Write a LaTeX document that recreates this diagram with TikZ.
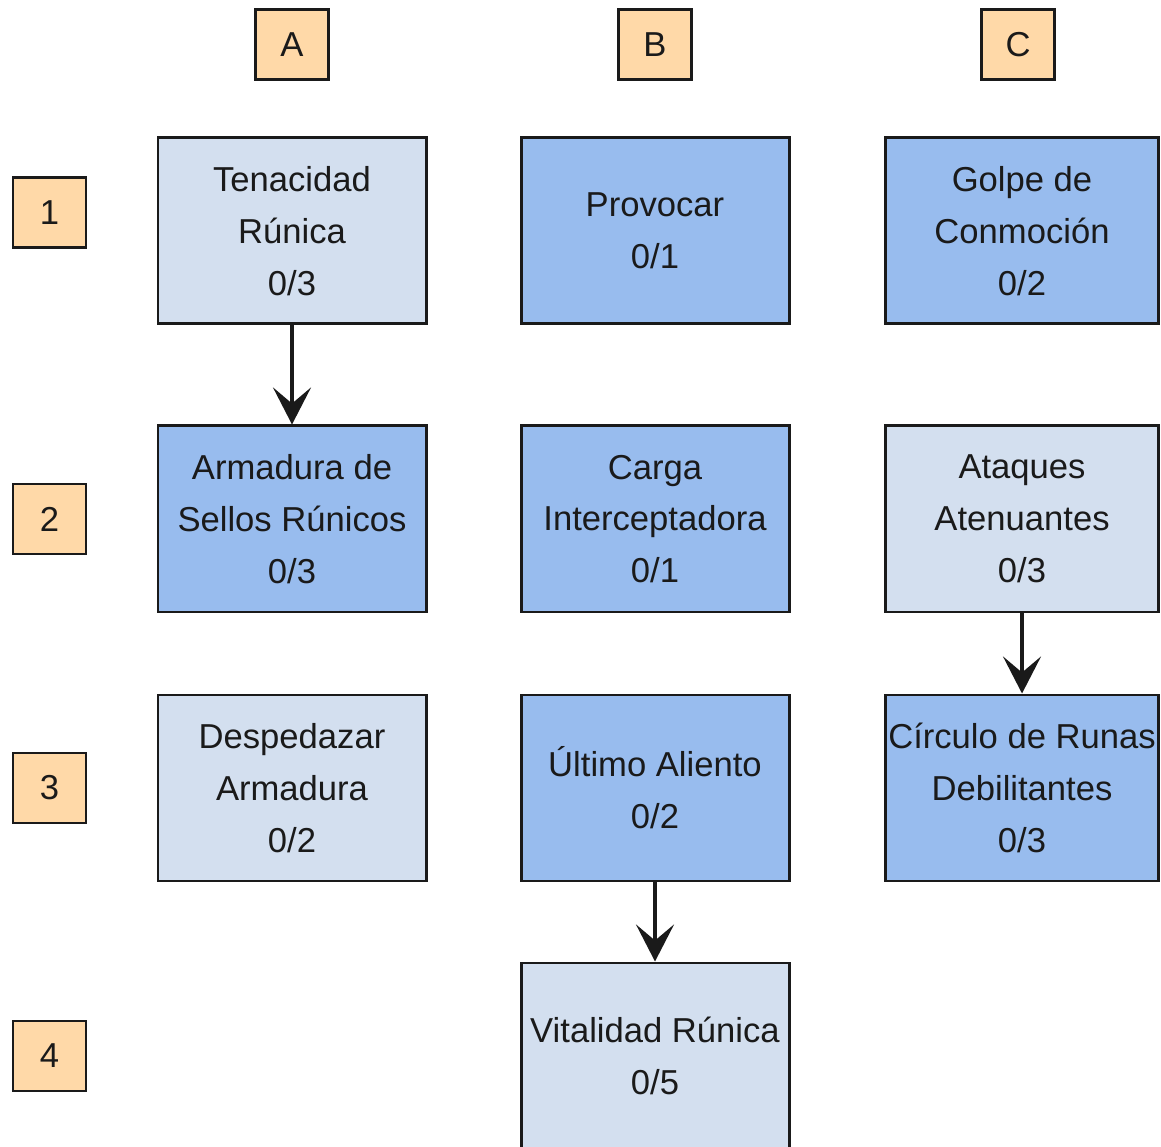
\documentclass[tikz,border=0pt]{standalone}
\usepackage{fontspec}
\setmainfont{Liberation Sans}
\usetikzlibrary{arrows.meta, positioning}
\definecolor{talentlight}{HTML}{D3DFEF}
\definecolor{talentdark}{HTML}{98BCEE}
\definecolor{labelfill}{HTML}{FFD9A8}
\definecolor{edge}{HTML}{1A1A1A}
\tikzset{
    talent/.style={
        rectangle, draw=edge, line width=1.7pt,
        minimum width=5.36cm, minimum height=3.72cm,
        inner sep=0pt, align=center, text=edge,
        font=\fontsize{19.7}{29.5}\selectfont
    },
    passive/.style={talent, fill=talentlight},
    active/.style={talent, fill=talentdark},
    tag/.style={
        rectangle, draw=edge, line width=1.7pt,
        minimum width=1.46cm, minimum height=1.4cm,
        fill=labelfill, text=edge, inner sep=0pt,
        font=\fontsize{19.7}{24}\selectfont
    },
    wire/.style={draw=edge, line width=2.1pt,
        -{Stealth[length=7.4mm, width=7.6mm, inset=3.2mm]}}
}
\begin{document}
\begin{tikzpicture}
\useasboundingbox (0,0) rectangle (23.22,22.92);

% Column headers
\node[tag] (colA) at (5.84,22.02) {A};
\node[tag] (colB) at (13.1,22.02) {B};
\node[tag] (colC) at (20.36,22.02) {C};

% Row labels
\node[tag] (row1) at (0.99,18.66) {1};
\node[tag] (row2) at (0.99,12.54) {2};
\node[tag] (row3) at (0.99,7.16) {3};
\node[tag] (row4) at (0.99,1.8) {4};

% Row 1
\node[passive] (tenacidad) at (5.84,18.3) {Tenacidad\\Rúnica\\0/3};
\node[active] (provocar) at (13.1,18.3) {Provocar\\0/1};
\node[active, minimum width=5.46cm] (golpe) at (20.44,18.3) {Golpe de\\Conmoción\\0/2};

% Row 2
\node[active] (armadura) at (5.84,12.54) {Armadura de\\Sellos Rúnicos\\0/3};
\node[active] (carga) at (13.1,12.54) {Carga\\Interceptadora\\0/1};
\node[passive, minimum width=5.46cm] (ataques) at (20.44,12.54) {Ataques\\Atenuantes\\0/3};

% Row 3
\node[passive] (despedazar) at (5.84,7.16) {Despedazar\\Armadura\\0/2};
\node[active] (ultimo) at (13.1,7.16) {Último Aliento\\0/2};
\node[active, minimum width=5.46cm] (circulo) at (20.44,7.16) {Círculo de Runas\\Debilitantes\\0/3};

% Row 4
\node[passive] (vitalidad) at (13.1,1.8) {Vitalidad Rúnica\\0/5};

% Prerequisites
\draw[wire] (tenacidad) -- (armadura);
\draw[wire] (ataques) -- (circulo);
\draw[wire] (ultimo) -- (vitalidad);

\end{tikzpicture}
\end{document}
